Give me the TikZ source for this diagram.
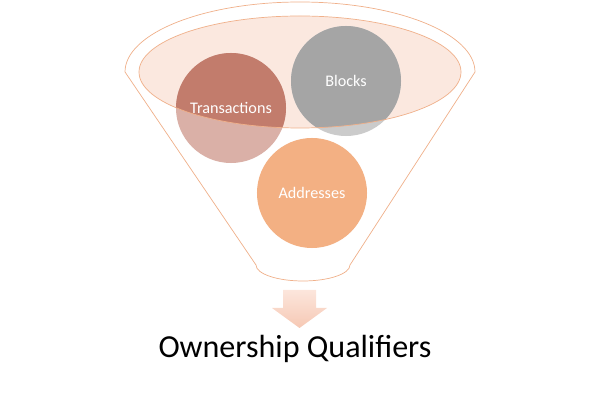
\documentclass[tikz,border=0pt]{standalone}
\usepackage{fontspec}
\setmainfont{Carlito}
\usetikzlibrary{calc}
\definecolor{funnelline}{HTML}{F0B08A}
\definecolor{mouthfill}{HTML}{FBE8DF}
\definecolor{transdark}{HTML}{C27C6C}
\definecolor{translight}{HTML}{DAB0A7}
\definecolor{blockdark}{HTML}{A5A5A5}
\definecolor{blocklight}{HTML}{CBCBCB}
\definecolor{addrfill}{HTML}{F3B083}
\definecolor{arrowtop}{HTML}{FCE6DC}
\definecolor{arrowbot}{HTML}{F6C8B4}

\begin{document}
\begin{tikzpicture}[x=0.025cm,y=0.025cm,
	bubble/.style={circle,minimum size=2.75cm,inner sep=0pt,text=white,font=\fontsize{11.5}{13}\selectfont},
	outline/.style={draw=funnelline,line width=0.5pt}]
	\useasboundingbox (0,0) rectangle (600,400);

	% funnel body
	\filldraw[outline,fill=white] (125,328) arc[start angle=180,end angle=0,x radius=175,y radius=70]
		-- (350,135) arc[start angle=0,end angle=-180,x radius=47,y radius=16] -- cycle;
	\fill[mouthfill] (300,328) ellipse[x radius=161,y radius=56];

	\node[bubble,fill=translight] (trans) at (231,292) {};
	\node[bubble,fill=blocklight] (blocks) at (346,319) {};
	\begin{scope}
		\clip (300,328) ellipse[x radius=161,y radius=56];
		\fill[transdark] (trans.center) circle[radius=55];
		\fill[blockdark] (blocks.center) circle[radius=55];
	\end{scope}
	\draw[outline] (300,328) ellipse[x radius=161,y radius=56];
	\node[font=\fontsize{11.5}{13}\selectfont,text=white] at (trans) {Transactions};
	\node[font=\fontsize{11.5}{13}\selectfont,text=white] at (blocks) {Blocks};

	\node[bubble,fill=addrfill] (addr) at (312,207) {Addresses};

	% output
	\node[font=\fontsize{22.8}{27}\selectfont,anchor=base] (out) at (295,42) {Ownership Qualifiers};
	\shade[top color=arrowtop,bottom color=arrowbot] (283,110) -- (316,110) -- (316,92) -- (327,92)
		-- (299.5,72) -- (272,92) -- (283,92) -- cycle;
\end{tikzpicture}
\end{document}
